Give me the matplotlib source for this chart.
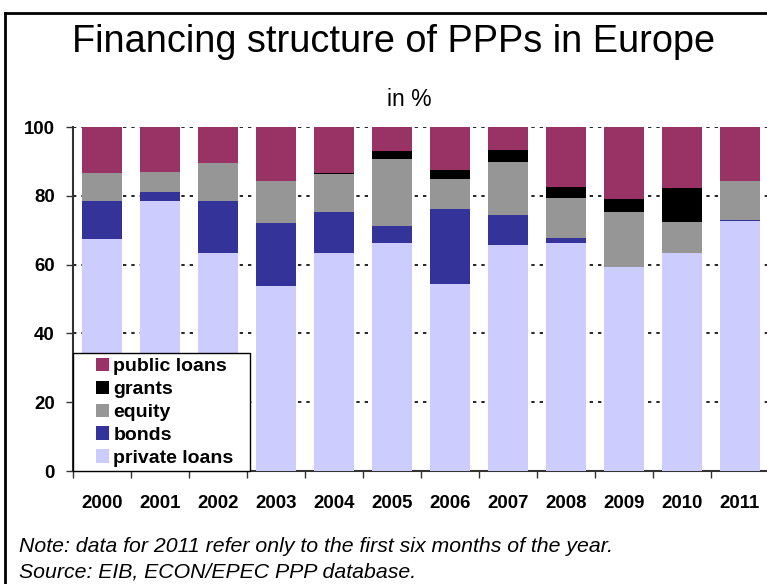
import matplotlib
matplotlib.use("Agg")
import matplotlib.pyplot as plt
import numpy as np
from matplotlib.lines import Line2D
from matplotlib.patches import Rectangle
from matplotlib.legend_handler import HandlerPatch

years = ["2000", "2001", "2002", "2003", "2004", "2005", "2006", "2007", "2008", "2009", "2010", "2011"]
private_loans = [67.3, 78.6, 63.3, 53.7, 63.3, 66.4, 54.3, 65.6, 66.2, 59.2, 63.3, 72.8]
bonds = [11.1, 2.4, 15.3, 18.3, 12.1, 4.7, 22.0, 8.7, 1.4, 0.0, 0.0, 0.3]
equity = [8.2, 6.0, 10.9, 12.4, 10.8, 19.7, 8.7, 15.6, 11.9, 16.2, 9.0, 11.3]
grants = [0.0, 0.0, 0.0, 0.0, 0.4, 2.3, 2.6, 3.5, 3.2, 3.8, 10.1, 0.0]
public_loans = [13.4, 13.0, 10.5, 15.6, 13.4, 6.9, 12.4, 6.6, 17.3, 20.8, 17.6, 15.6]

series = [
    ("private loans", private_loans, "#CCCCFF"),
    ("bonds", bonds, "#333399"),
    ("equity", equity, "#969696"),
    ("grants", grants, "#000000"),
    ("public loans", public_loans, "#993366"),
]

plt.rcParams['font.family'] = ['Liberation Sans', 'DejaVu Sans']

fig = plt.figure(figsize=(7.67, 5.84), dpi=100)
ax = fig.add_axes([73/767, 113/584, 696/767, 344/584])

x = np.arange(len(years))
bottom = np.zeros(len(years))
handles = []
for name, vals, col in series:
    v = np.array(vals)
    b = ax.bar(x, v, bottom=bottom, width=0.68, color=col, label=name, zorder=3, linewidth=0)
    bottom += v
    handles.append(b.patches[0])

ax.set_xlim(-0.5, len(years) - 0.5)
ax.set_ylim(0, 100)
ax.set_yticks([0, 20, 40, 60, 80, 100])
ax.set_yticklabels(["0", "20", "40", "60", "80", "100"], fontsize=13.4, fontweight='bold')
ax.set_xticks(x)
ax.set_xticklabels(years, fontsize=13.4, fontweight='bold')
ax.tick_params(axis='x', length=0, pad=17)
ax.set_xticks(np.arange(len(years) + 1) - 0.5, minor=True)
ax.tick_params(axis='x', which='minor', length=5, direction='out', width=1, color='#333333')
ax.tick_params(axis='y', length=5, direction='out', width=1, color='#333333', pad=8)

for yv in [20, 40, 60, 80, 100]:
    ax.axhline(yv, color='black', linestyle=(0, (2, 3)), linewidth=1.2, zorder=1)

for s in ['top', 'right']:
    ax.spines[s].set_visible(False)
ax.spines['left'].set_color('#333333')
ax.spines['left'].set_linewidth(1.5)
ax.spines['bottom'].set_color('#333333')
ax.spines['bottom'].set_linewidth(1.5)


def square_patch(legend, orig_handle, xdescent, ydescent, width, height, fontsize):
    sq = 0.68 * fontsize
    return Rectangle((-xdescent + width - sq, -ydescent + (height - sq) / 2), sq, sq)


leg = ax.legend(handles=handles[::-1], labels=[s[0] for s in series][::-1],
                loc='lower left', bbox_to_anchor=(0.0, 0.0, 0.254, 0.334),
                mode='expand', frameon=True, fancybox=False, framealpha=1,
                prop={'weight': 'bold', 'size': 14}, handlelength=1.65, handleheight=0.7,
                handletextpad=0.2, labelspacing=0.27, borderpad=0.22, borderaxespad=0,
                handler_map={Rectangle: HandlerPatch(patch_func=square_patch)})
leg.get_frame().set_edgecolor('black')
leg.get_frame().set_linewidth(1.0)
leg.set_zorder(5)

fig.text(394/767, 1 - 41.5/584, "Financing structure of PPPs in Europe", ha='center', va='center', fontsize=27.3)
fig.text(409/767, 1 - 100/584, "in %", ha='center', va='center', fontsize=16.5)
fig.text(19/767, 1 - 547/584, "Note: data for 2011 refer only to the first six months of the year.",
         ha='left', va='center', fontsize=15.3, style='italic')
fig.text(19/767, 1 - 572/584, "Source: EIB, ECON/EPEC PPP database.",
         ha='left', va='center', fontsize=15.3, style='italic')

# frame lines
fig.add_artist(Line2D([5/767, 5/767], [0, 1 - 13/584], transform=fig.transFigure, color='black', linewidth=2))
fig.add_artist(Line2D([5/767, 1], [1 - 13/584, 1 - 13/584], transform=fig.transFigure, color='black', linewidth=2))

fig.savefig("out.png", dpi=100)
